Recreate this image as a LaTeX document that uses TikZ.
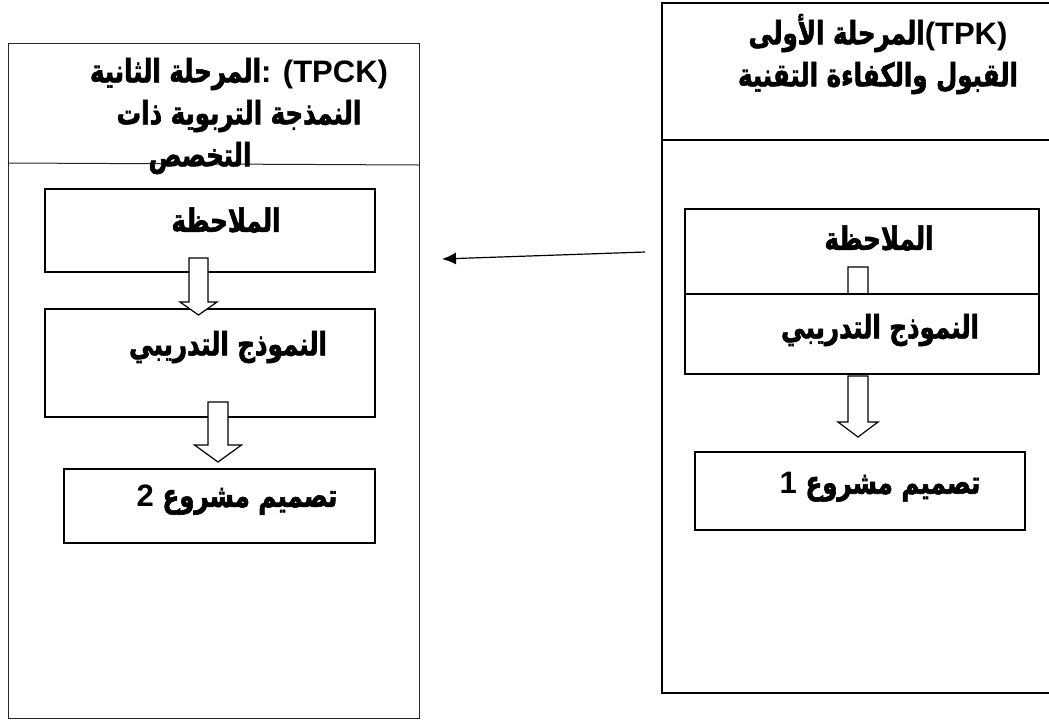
\documentclass[tikz,border=0pt]{standalone}
\usepackage{fontspec}
\setmainfont{Liberation Sans}
\newfontfamily\arabicfont[Script=Arabic, Scale=1.04, FakeStretch=0.76, BoldFeatures={FakeBold=1.8}]{DejaVu Sans}
\TeXXeTstate=1
\usetikzlibrary{arrows.meta}
\newcommand{\arab}[1]{{\arabicfont\beginR #1\endR}}
\tikzset{
  pics/hollowarrow/.style n args={4}{code={
    \draw[fill=white, line width=0.6pt] (-#1,0) -- (#1,0) -- (#1,#2) -- (#3,#2) -- (0,#2+#4)
      -- (-#3,#2) -- (-#1,#2) -- cycle;
  }}
}
\begin{document}
\begin{tikzpicture}[x=0.5pt, y=-0.5pt,
  box/.style={draw, line width=0.75pt, fill=white, inner sep=0pt, anchor=north west},
  label/.style={font=\bfseries\fontsize{15.5}{21}\selectfont, align=center, inner sep=0pt}]
\useasboundingbox (0,0) rectangle (1049,719);
\draw[line width=0.5pt, black!85] (8,43) rectangle (419,718);
\draw[line width=0.5pt, black!85] (8,163) -- (419,165);
\draw[line width=1.1pt] (662,3) rectangle (1060,693);
\draw[line width=1.1pt] (662,140) -- (1060,140);
\node[label] (headLeft) at (239,116) {\arab{المرحلة الثانية}: (TPCK)\\ \arab{النمذجة التربوية ذات}\\ \arab{التخصص}\hspace*{39pt}};
\node[label] (headRight) at (878,54) {\arab{المرحلة الأولى}(TPK)\\ \arab{القبول والكفاءة التقنية}};
\node[box, minimum width=165pt, minimum height=41.5pt] (obsLeft) at (44,188) {};
\node[box, minimum width=165pt, minimum height=54pt] (modelLeft) at (44,308) {};
\node[box, minimum width=155.5pt, minimum height=37pt] (designLeft) at (63,468) {};
\pic at (198.5,258) {hollowarrow={9.5}{44}{18.5}{13}};
\pic at (218,402) {hollowarrow={10}{43}{23.5}{17}};
\node[label] (obsLeftText) at (226,220) {\arab{الملاحظة}};
\node[label] (modelLeftText) at (228,347) {\arab{النموذج التدريبي}};
\node[label] (designLeftText) at (237,500) {\beginR{\arabicfont تصميم مشروع} 2\endR};
\node[box, minimum width=177pt, minimum height=42.5pt] (obsRight) at (684,208) {};
\pic at (858,267) {hollowarrow={10}{40}{20}{15}};
\node[box, minimum width=177pt, minimum height=40pt] (modelRight) at (684,293) {};
\pic at (858,376) {hollowarrow={10}{46}{20}{15}};
\node[box, minimum width=165pt, minimum height=39pt] (designRight) at (694,451) {};
\node[label] (obsRightText) at (879,238) {\arab{الملاحظة}};
\node[label] (modelRightText) at (880,330) {\arab{النموذج التدريبي}};
\node[label] (designRightText) at (880,487) {\beginR{\arabicfont تصميم مشروع} 1\endR};
\coordinate (fromRight) at (645,252);
\coordinate (toLeft) at (442,259);
\draw[line width=0.6pt, -{Latex[length=7pt, width=6pt]}] (fromRight) -- (toLeft);
\end{tikzpicture}
\end{document}
